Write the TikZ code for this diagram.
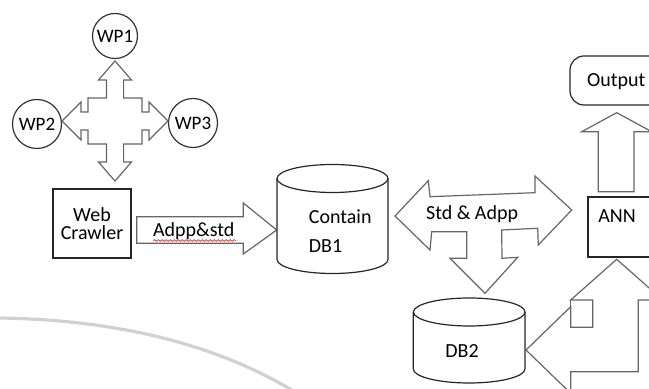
\documentclass[tikz,border=0pt]{standalone}
\usepackage{fontspec}
\setmainfont{Carlito}
\usetikzlibrary{decorations.pathmorphing}

\begin{document}
\begin{tikzpicture}[x=0.5pt, y=-0.5pt,
  lbl/.style={font=\fontsize{10}{12}\selectfont, inner sep=0pt},
  wp/.style={circle, draw=black!80, line width=0.6pt, inner sep=0pt,
    font=\fontsize{9.5}{11}\selectfont},
  box/.style={draw=black!85, line width=0.6pt},
  blockarr/.style={draw=black!60, fill=white, line width=0.6pt},
  swoosh/.style={line width=1.6pt, black!18}
]
\useasboundingbox (0,0) rectangle (649,389);

% background swoosh
\draw[swoosh] (0,318) .. controls (120,320) and (220,345) .. (300,395);

% web pages
\node[wp, minimum size=22.5pt] (wp1) at (115,36) {WP1};
\node[wp, minimum size=24.5pt] (wp2) at (37,124) {WP2};
\node[wp, minimum size=24.5pt] (wp3) at (193,123) {WP3};

% four-way arrow
\draw[blockarr, shift={(115,121)}] (0,-60) -- (16.5,-41) -- (8.6,-41) -- (8.6,-23)
  -- (27,-23) -- (27,-9) -- (34,-9) -- (34,-19) -- (53,0) -- (34,19) -- (34,9)
  -- (27,9) -- (27,23) -- (8.6,23) -- (8.6,41) -- (16.5,41) -- (0,60)
  -- (-16.5,41) -- (-8.6,41) -- (-8.6,23) -- (-27,23) -- (-27,9) -- (-34,9)
  -- (-34,19) -- (-53,0) -- (-34,-19) -- (-34,-9) -- (-27,-9) -- (-27,-23)
  -- (-8.6,-23) -- (-8.6,-41) -- (-16.5,-41) -- cycle;

\node[box, minimum width=39pt, minimum height=34.5pt, align=center,
  font=\fontsize{10}{9.2}\selectfont] (crawler) at (92,223.5) {Web\\Crawler};

% crawler to DB1
\draw[blockarr] (136.7,216.7) -- (243.3,216.7) -- (243.3,203) -- (276.7,230)
  -- (243.3,254) -- (243.3,243.3) -- (136.7,243.3) -- cycle;

% databases
\draw[box, fill=white] (277,178.5) -- (277,259.5) arc (180:360:27.75pt and 7pt)
  -- (388,178.5);
\draw[box] (332.5,178.5) ellipse (27.75pt and 7pt);
\draw[box, fill=white] (413.3,312) -- (413.3,369) arc (180:360:27.9pt and 7pt)
  -- (525,312);
\draw[box] (469.2,312) ellipse (27.9pt and 7pt);

% DB1 - ANN - DB2 arrow
\draw[blockarr] (395,216) -- (428.3,180.7) -- (430,196.7) -- (535,192.7)
  -- (535,176) -- (571.7,210) -- (538.3,245) -- (537.7,228.3) -- (501.7,230)
  -- (502,258.3) -- (517.7,257.3) -- (485,293.3) -- (450,258.3) -- (466.7,258.3)
  -- (466.7,231.7) -- (431.7,231.7) -- (430,250) -- cycle;

% ANN and output
\draw[box] (588,197) rectangle (680,257);
\draw[box, rounded corners=7pt] (570,56) rectangle (690,105);
\draw[blockarr] (616.7,112.7) -- (651.7,131.7) -- (634,131.7) -- (634,191.7)
  -- (598.3,191.7) -- (598.3,131.7) -- (581.7,131.7) -- cycle;

% DB2 - ANN bent arrow
\draw[blockarr] (616.7,259.3) -- (662.7,300) -- (638.3,300) -- (638.3,371.7)
  -- (570.7,371.7) -- (570.7,393.3) -- (526,350) -- (570.7,306.7) -- (570.7,327.3)
  -- (592.7,327.3) -- (592.7,300) -- (570.7,300) -- cycle;
\draw[blockarr] (570.7,300) -- (570.7,306.7);

% labels
\node[lbl, anchor=base west] (adpp) at (152.7,236.7) {Adpp\&std};
\draw[red!80, line width=0.4pt, decorate,
  decoration={snake, amplitude=0.4pt, segment length=2pt}] (153,240.5) -- (236,240.5);
\node[lbl, anchor=west, align=left, font=\fontsize{10}{14.5}\selectfont] (db1)
  at (308.5,230.7) {Contain\\DB1};
\node[lbl, anchor=base west] (std) at (425.7,220) {Std \& Adpp};
\node[lbl, anchor=base west] (db2) at (445,357.3) {DB2};
\node[lbl, anchor=base west] (ann) at (598,222.3) {ANN};
\node[lbl, anchor=base west] (output) at (586.7,86.7) {Output};
\end{tikzpicture}
\end{document}
